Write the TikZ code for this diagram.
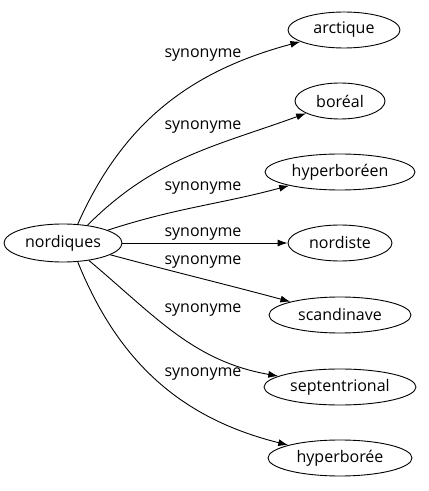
\documentclass[tikz,border=0pt]{standalone}
\usepackage{fontspec}
\setmainfont{Open Sans}
\usetikzlibrary{shapes.geometric,arrows.meta}
\begin{document}
\begin{tikzpicture}[x=1pt,y=1pt,
  word/.style={ellipse,draw,line width=0.9pt,inner sep=0pt,minimum height=36pt,font=\fontsize{16}{18}\selectfont},
  lab/.style={font=\fontsize{16}{18}\selectfont,inner sep=0pt},
  edge/.style={line width=0.9pt,-{Latex[length=10pt,width=7pt]}}]
\useasboundingbox (0,0) rectangle (429,491);
\node[word,minimum width=118pt,minimum height=38pt] (n) at (63,248) {nordiques};
\node[word,minimum width=112pt] (a) at (344,461) {arctique};
\node[word,minimum width=90pt] (b) at (340,390) {boréal};
\node[word,minimum width=150pt] (c) at (340,319) {hyperboréen};
\node[word,minimum width=104pt] (d) at (340,248) {nordiste};
\node[word,minimum width=142pt] (e) at (340,176) {scandinave};
\node[word,minimum width=152pt] (f) at (340,104) {septentrional};
\node[word,minimum width=144pt] (g) at (340,33) {hyperborée};
\node[lab] (la) at (203,436) {synonyme};
\node[lab] (lb) at (203,364) {synonyme};
\node[lab] (lc) at (203,303) {synonyme};
\node[lab] (ld) at (203,257) {synonyme};
\node[lab] (le) at (203,229) {synonyme};
\node[lab] (lf) at (203,181) {synonyme};
\node[lab] (lg) at (203,117) {synonyme};
\draw[edge] (n.52) to[out=66,in=195] (a);
\draw[edge] (n.36) to[out=45,in=200] (b);
\draw[edge] (n.16) to[out=18,in=195] (c);
\draw[edge] (n) -- (d);
\draw[edge] (n.-14) to[out=-15,in=165] (e);
\draw[edge] (n.-34) to[out=-40,in=170] (f);
\draw[edge] (n.-52) to[out=-68,in=166] (g);
\end{tikzpicture}
\end{document}
